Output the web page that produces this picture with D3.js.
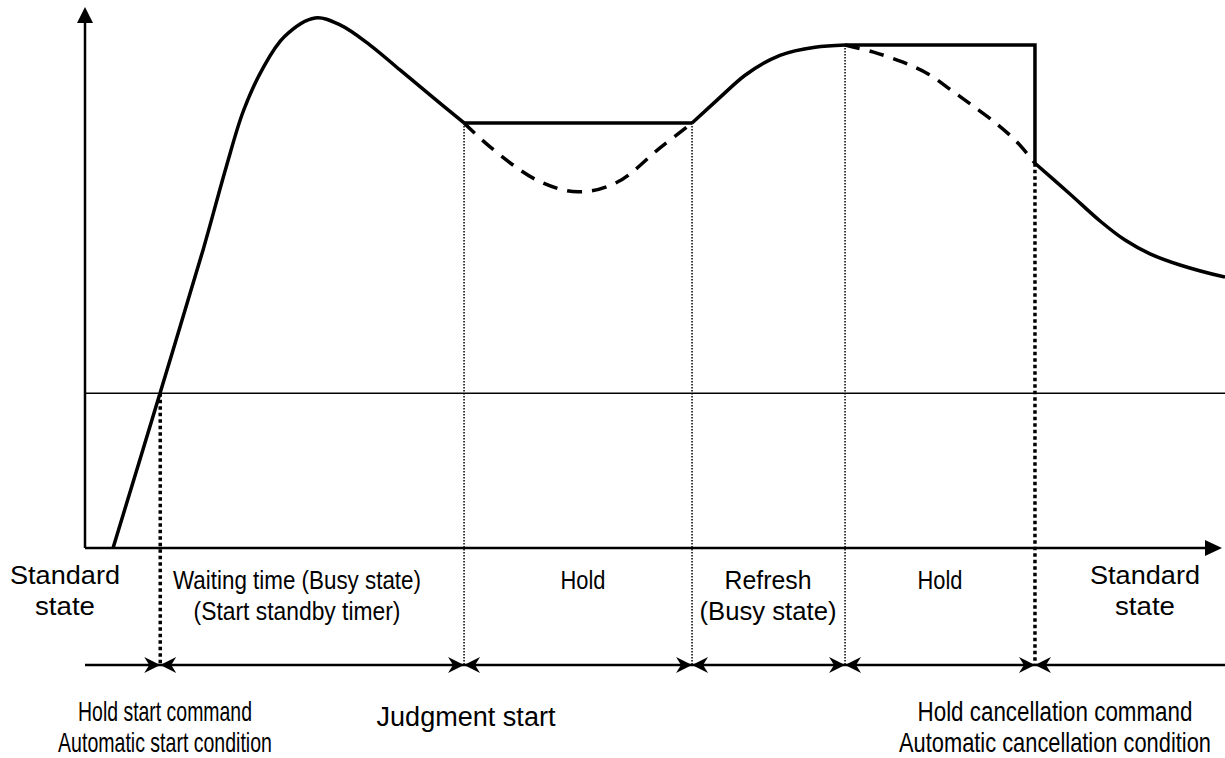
<!DOCTYPE html>
<html>
<head>
<meta charset="utf-8">
<script src="https://cdn.jsdelivr.net/npm/d3@7"></script>
<style>
  body { margin: 0; background: #fff; }
  text { font-family: "Liberation Sans", Arial, sans-serif; font-size: 26px; fill: #000; }
  text.event { font-size: 27px; }
</style>
</head>
<body>
<div id="chart"></div>
<script>
/* DATA */
// time runs 0..100 along the axis, signal level 0..100 (100 = first peak)
const boundaries = [6.6, 33.25, 53.25, 66.67, 83.33];
const boldBoundary = [true, false, false, false, true];
const threshold = 29.2;
const holdLevel1 = 80.2;
const holdLevel2 = 94.9;
const dropLevel = 72.6;

const riseCurve = [[2.46, 0], [6.58, 29.2], [10.35, 56.2], [12.4, 72], [13.9, 82.5], [15.6, 90.5],
  [17.5, 96.5], [20.18, 100], [22.37, 98.7], [25.0, 94.9], [27.63, 90.2], [30.26, 85.5], [33.25, 80.2]];
const dipCurve = [[33.25, 80.2], [35.53, 75.7], [39.65, 69.4], [43.25, 67.2], [46.67, 69.0], [50.44, 75.5], [53.25, 80.2]];
const refreshCurve = [[53.25, 80.2], [55.44, 84.5], [57.9, 89.2], [60.96, 92.95], [64.04, 94.5], [66.67, 94.9]];
const decayCurve = [[66.67, 94.9], [69.1, 93.6], [71.7, 91.7], [74.0, 89.4], [76.1, 86.2], [77.9, 83.4],
  [80.0, 80.0], [81.75, 76.6], [83.33, 72.6]];
const tailCurve = [[83.33, 72.6], [86.4, 66.8], [89.04, 61.7], [91.23, 58.1], [93.42, 55.5], [96.05, 53.4], [100, 51.1]];

const phaseLabels = [
  ["Standard", "state"],
  ["Waiting time (Busy state)", "(Start standby timer)"],
  ["Hold"],
  ["Refresh", "(Busy state)"],
  ["Hold"],
  ["Standard", "state"]
];
const eventLabels = [
  ["Hold start command", "Automatic start condition"],
  ["Judgment start"],
  ["Hold cancellation command", "Automatic cancellation condition"]
];

/* LAYOUT */
const width = 1225, height = 758;
const rowY = 665;
const phaseX = [65, 297, 583, 768, 940, 1145];
const phaseW = [[110, 60], [248, 207], [45], [87, 137], [45], [110, 60]];
const eventX = [165, 466, 1055];
const eventW = [[174, 214], [179], [275, 312]];

const svg = d3.select("#chart").append("svg")
  .attr("width", width)
  .attr("height", height);

const x = d3.scaleLinear().domain([0, 100]).range([85, 1225]);
const y = d3.scaleLinear().domain([0, 100]).range([548, 18]);

const smooth = d3.line().x(d => x(d[0])).y(d => y(d[1])).curve(d3.curveCatmullRom.alpha(0.5));
const flatEnd = d3.line().x(d => x(d[0])).y(d => y(d[1])).curve(d3.curveMonotoneX);

// axes
svg.append("line")
  .attr("x1", x(0)).attr("x2", 1210).attr("y1", y(0)).attr("y2", y(0))
  .attr("stroke", "#000").attr("stroke-width", 2.5);
svg.append("path")
  .attr("d", `M1222,${y(0)} L1205,${y(0) - 8} L1205,${y(0) + 8} Z`)
  .attr("fill", "#000");
svg.append("line")
  .attr("x1", x(0)).attr("x2", x(0)).attr("y1", y(0)).attr("y2", 20)
  .attr("stroke", "#000").attr("stroke-width", 2.5);
svg.append("path")
  .attr("d", `M${x(0)},7 L${x(0) - 8},23 L${x(0) + 8},23 Z`)
  .attr("fill", "#000");

// threshold
svg.append("line")
  .attr("x1", x(0)).attr("x2", width).attr("y1", y(threshold)).attr("y2", y(threshold))
  .attr("stroke", "#000").attr("stroke-width", 1.5);

// dotted boundaries
const tops = [threshold, holdLevel1, holdLevel1, holdLevel2, dropLevel];
svg.selectAll("line.bound")
  .data(boundaries)
  .join("line")
  .attr("class", "bound")
  .attr("x1", d => x(d)).attr("x2", d => x(d))
  .attr("y1", (d, i) => y(tops[i])).attr("y2", rowY)
  .attr("stroke", "#000")
  .attr("stroke-width", (d, i) => boldBoundary[i] ? 3.5 : 1.5)
  .attr("stroke-dasharray", (d, i) => boldBoundary[i] ? "3.5,3" : "1.5,1.5");

// signal curves
svg.selectAll("path.solid")
  .data([riseCurve, tailCurve])
  .join("path")
  .attr("class", "solid")
  .attr("d", smooth)
  .attr("fill", "none").attr("stroke", "#000").attr("stroke-width", 3.5);
svg.append("path")
  .attr("d", flatEnd(refreshCurve))
  .attr("fill", "none").attr("stroke", "#000").attr("stroke-width", 3.5);

svg.selectAll("path.dashed")
  .data([dipCurve, decayCurve])
  .join("path")
  .attr("class", "dashed")
  .attr("d", smooth)
  .attr("fill", "none").attr("stroke", "#000").attr("stroke-width", 3.5)
  .attr("stroke-dasharray", "15,10");

// held values
svg.append("path")
  .attr("d", d3.line()([[x(boundaries[1]), y(holdLevel1)], [x(boundaries[2]), y(holdLevel1)]]))
  .attr("fill", "none").attr("stroke", "#000").attr("stroke-width", 3.5);
svg.append("path")
  .attr("d", d3.line()([[x(boundaries[3]), y(holdLevel2)], [x(boundaries[4]), y(holdLevel2)], [x(boundaries[4]), y(dropLevel)]]))
  .attr("fill", "none").attr("stroke", "#000").attr("stroke-width", 3.5);

// double arrow row
svg.append("line")
  .attr("x1", x(0)).attr("x2", width).attr("y1", rowY).attr("y2", rowY)
  .attr("stroke", "#000").attr("stroke-width", 2.5);
const head = (bx, dir) => `M${bx},${rowY} L${bx - dir * 16},${rowY - 8} L${bx - dir * 11},${rowY} L${bx - dir * 16},${rowY + 8} Z`;
boundaries.forEach(b => {
  svg.append("path").attr("d", head(x(b), 1)).attr("fill", "#000");
  svg.append("path").attr("d", head(x(b), -1)).attr("fill", "#000");
});

// labels, squeezed horizontally to the widths seen in the picture
function drawLines(lines, cx, y0, widths, gap, cls) {
  lines.forEach((s, i) => {
    const t = svg.append("text")
      .attr("class", cls)
      .attr("text-anchor", "middle")
      .text(s);
    const natural = t.node().getComputedTextLength();
    const sx = widths[i] / natural;
    t.attr("transform", `translate(${cx},${y0 + i * gap}) scale(${sx},1)`);
  });
}
phaseLabels.forEach((l, i) => {
  const y0 = (i === 0 || i === 5) ? 584 : 589;
  drawLines(l, phaseX[i], y0, phaseW[i], 31, "phase");
});
eventLabels.forEach((l, i) => {
  drawLines(l, eventX[i], l.length === 1 ? 726 : 721, eventW[i], 31, "event");
});
</script>
</body>
</html>
